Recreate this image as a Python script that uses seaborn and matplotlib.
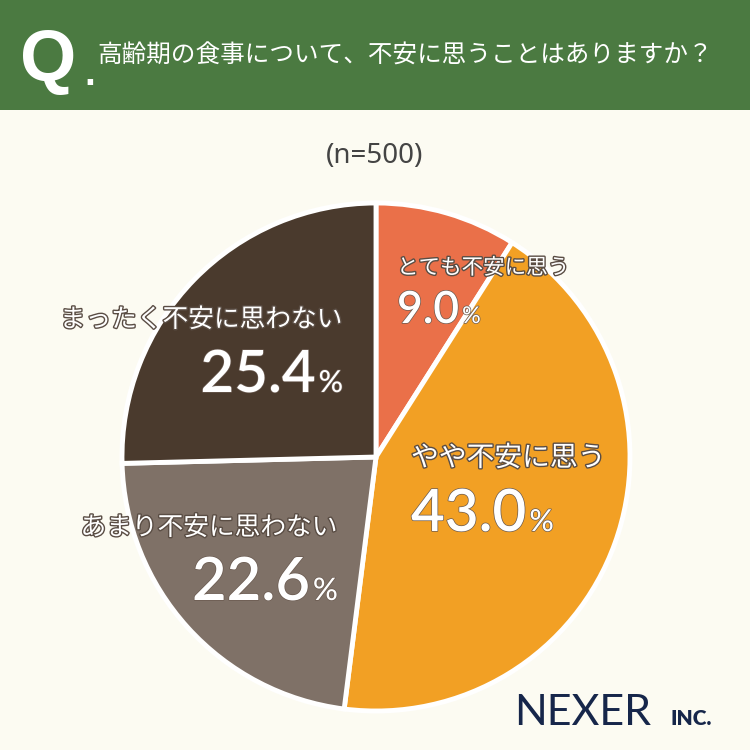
import matplotlib
matplotlib.use("Agg")
import matplotlib.pyplot as plt
import matplotlib.patheffects as pe
import seaborn as sns

# data
labels = ["とても不安に思う", "やや不安に思う", "あまり不安に思わない", "まったく不安に思わない"]
values = [9.0, 43.0, 22.6, 25.4]
colors = ["#EA7049", "#F2A024", "#7F7167", "#4A3A2D"]
title = "高齢期の食事について、不安に思うことはありますか？"
n_text = "(n=500)"

sns.set_theme(style="white")
plt.rcParams['font.family'] = ['Noto Sans CJK JP', 'DejaVu Sans']

bg = "#FCFBF2"
green = "#4B7A41"

fig = plt.figure(figsize=(7.5, 7.5), dpi=100, facecolor=bg)

# header band
hdr = fig.add_axes([0, 1 - 110 / 750, 1, 110 / 750])
hdr.set_facecolor(green)
hdr.set_xticks([]); hdr.set_yticks([])
for s in hdr.spines.values():
    s.set_visible(False)

fig.text(20 / 750, 1 - 81 / 750, "Q", color="white", fontsize=52, fontweight="bold",
         family=["Liberation Sans", "DejaVu Sans"], va="baseline", ha="left")
fig.text(84 / 750, 1 - 85 / 750, ".", color="white", fontsize=28, fontweight="bold",
         family=["Liberation Sans", "DejaVu Sans"], va="baseline", ha="left")
fig.text(97 / 750, 1 - 56 / 750, title, color="white", fontsize=17.7, va="center", ha="left")

fig.text(0.5, 1 - 156 / 750, n_text, color="#444444", fontsize=20, ha="center", va="center",
         family=["Noto Sans", "DejaVu Sans"])

# pie
cx, cy, r = 376, 457, 254
ax = fig.add_axes([(cx - r) / 750, (750 - cy - r) / 750, 2 * r / 750, 2 * r / 750])
ax.pie(values, colors=colors, startangle=90, counterclock=False,
       wedgeprops=dict(edgecolor="white", linewidth=3.5))
ax.set_xlim(-1, 1)
ax.set_ylim(-1, 1)
ax.set_aspect("equal")
ax.axis("off")

lab_stroke = [pe.withStroke(linewidth=2.0, foreground="#5a4d44")]
num_stroke = [pe.withStroke(linewidth=1.0, foreground="#6a5a50")]
num_font = ["Lato", "Noto Sans", "DejaVu Sans"]

# label positions in pixels: (x, y of label centre, number baseline, align, label size, number size)
label_pos = [(397, 268, 323, "left", 15.5, 32),
             (411, 458, 531, "left", 20, 42),
             (338, 528, 600, "right", 18.5, 43),
             (343, 320, 392, "right", 18.5, 42)]

fig.canvas.draw()
rend = fig.canvas.get_renderer()
for lab, val, (x, yl, yn, ha, fs_l, fs_n) in zip(labels, values, label_pos):
    fig.text(x / 750, 1 - yl / 750, lab, color="white", fontsize=fs_l, ha=ha, va="center",
             path_effects=lab_stroke)
    num = f"{val:.1f}"
    pct_fs = fs_n * 0.52
    if ha == "left":
        t = fig.text(x / 750, 1 - yn / 750, num, color="white", fontsize=fs_n, ha="left",
                     va="baseline", fontweight="semibold", path_effects=num_stroke, family=num_font)
        bb = t.get_window_extent(rend)
        fig.text(bb.x1 / 750 + 0.004, 1 - yn / 750, "%", color="white", fontsize=pct_fs,
                 ha="left", va="baseline", fontweight="medium", path_effects=num_stroke, family=num_font)
    else:
        p = fig.text(x / 750, 1 - yn / 750, "%", color="white", fontsize=pct_fs, ha="right",
                     va="baseline", fontweight="medium", path_effects=num_stroke, family=num_font)
        bb = p.get_window_extent(rend)
        fig.text(bb.x0 / 750 - 0.004, 1 - yn / 750, num, color="white", fontsize=fs_n,
                 ha="right", va="baseline", fontweight="semibold", path_effects=num_stroke, family=num_font)

# logo
fig.text(514 / 750, 1 - 725 / 750, "NEXER", color="#16264A", fontsize=31,
         family=["Lato", "DejaVu Sans"], ha="left", va="baseline")
fig.text(670 / 750, 1 - 725 / 750, "INC.", color="#16264A", fontsize=15, fontweight="heavy",
         family=["Lato", "DejaVu Sans"], ha="left", va="baseline")

fig.savefig("out.png", dpi=100, facecolor=bg)
